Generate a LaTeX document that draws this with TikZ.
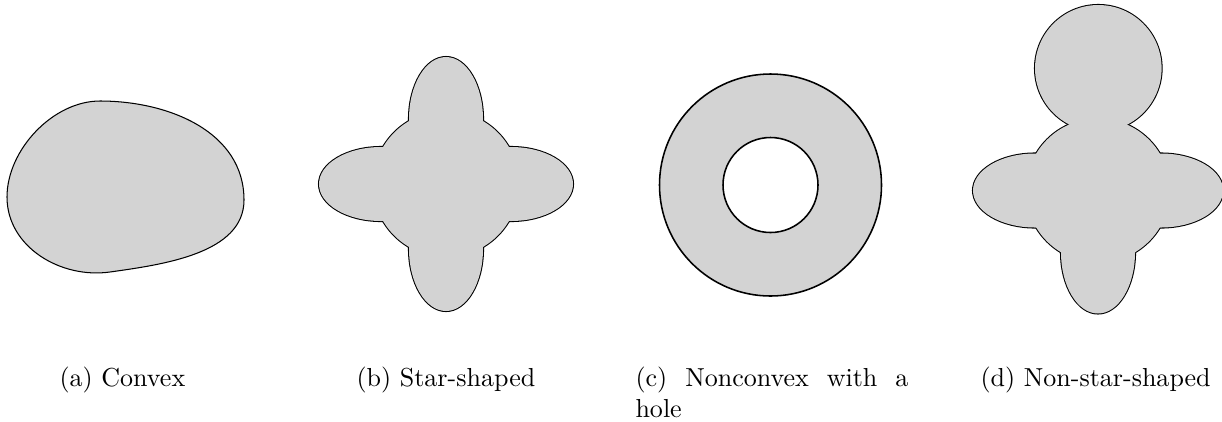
\documentclass[tikz,border=0pt]{standalone}
\usepackage{tikz}
\definecolor{shapegray}{RGB}{211,211,211}
\tikzset{
  shapefill/.style={fill=shapegray},
  unionline/.style={draw=black, line width=0.8pt, fill=shapegray},
  thinline/.style={draw=black, line width=0.4pt},
  ringline/.style={draw=black, line width=0.6pt},
  caption/.style={inner sep=0pt, font=\fontsize{10}{12}\selectfont}
}
\begin{document}
\begin{tikzpicture}[x=0.3844pt, y=-0.3844pt]
\useasboundingbox (0,0) rectangle (1222,421);

% (a) convex blob
\draw[thinline, shapefill] (7,197) to[out=90, in=180, looseness=0.9] (100,101)
  to[out=0, in=90] (244,200)
  to[out=-90, in=8, looseness=0.9] (110,272)
  to[out=188, in=-90] (7,197) -- cycle;

% (b) star-shaped: union of a disc and four elliptic lobes
\path[unionline] (446,184) circle (73);
\path[unionline] (446,119) ellipse (37 and 62);
\path[unionline] (446,249) ellipse (37 and 62);
\path[unionline] (381,184) ellipse (62 and 37);
\path[unionline] (511,184) ellipse (62 and 37);
\fill[shapegray] (446,184) circle (73);
\fill[shapegray] (446,119) ellipse (37 and 62);
\fill[shapegray] (446,249) ellipse (37 and 62);
\fill[shapegray] (381,184) ellipse (62 and 37);
\fill[shapegray] (511,184) ellipse (62 and 37);

% (c) annulus
\path[ringline, shapefill, even odd rule] (770.5,185) circle (111) (770.5,185) circle (47.5);

% (d) non-star-shaped
\path[unionline] (1098.3,68.3) circle (63.3);
\path[unionline] (1098,190.5) circle (72);
\path[unionline] (1098,252.5) ellipse (37 and 61);
\path[unionline] (1035,190.5) ellipse (62 and 37);
\path[unionline] (1161,190.5) ellipse (62 and 37);
\fill[shapegray] (1098.3,68.3) circle (63.3);
\fill[shapegray] (1098,190.5) circle (72);
\fill[shapegray] (1098,252.5) ellipse (37 and 61);
\fill[shapegray] (1035,190.5) ellipse (62 and 37);
\fill[shapegray] (1161,190.5) ellipse (62 and 37);

% captions
\node[caption, anchor=base west] (capa) at (59,386) {(a) Convex};
\node[caption, anchor=base west] (capb) at (356,386) {(b) Star-shaped};
\node[caption, anchor=base west, text width=104.9pt, align=justify] (capc) at (635,386) {(c) Nonconvex with a hole};
\node[caption, anchor=base west] (capd) at (980,386) {(d) Non-star-shaped};
\end{tikzpicture}
\end{document}
